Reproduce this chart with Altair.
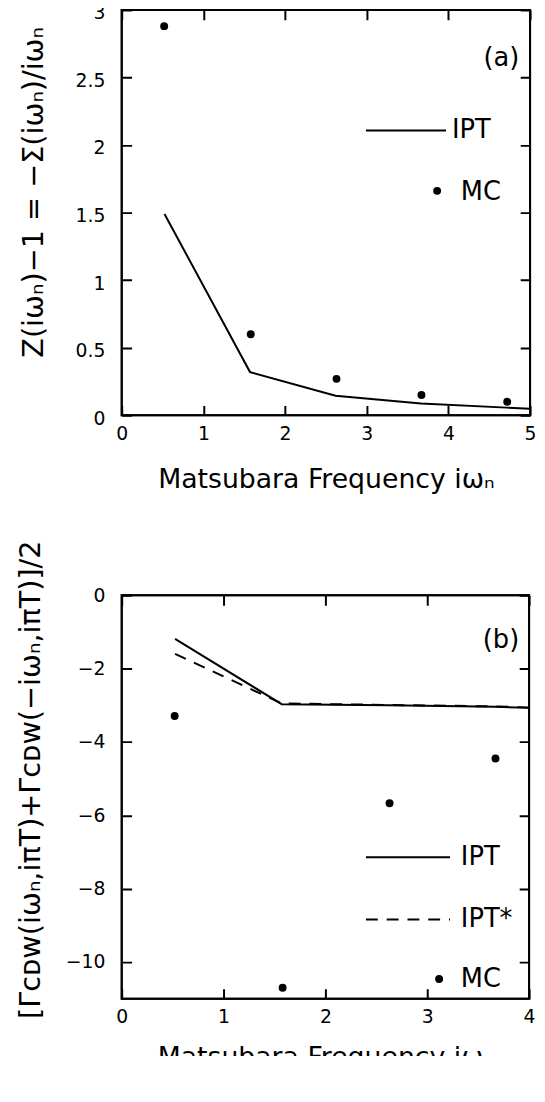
import altair as alt
import pandas as pd

FONT = "DejaVu Sans"

# ---------------- Panel (a) data ----------------
a_freq_mc = [0.52, 1.58, 2.63, 3.67, 4.72]
a_mc = [2.88, 0.60, 0.27, 0.15, 0.10]
a_freq_ipt = [0.524, 1.571, 2.618, 3.665, 4.712, 5.0]
a_ipt = [1.49, 0.32, 0.145, 0.088, 0.057, 0.049]
a_xticks = [0, 1, 2, 3, 4, 5]
a_yticks = [0, 0.5, 1, 1.5, 2, 2.5, 3]

# ---------------- Panel (b) data ----------------
b_freq_mc = [0.52, 1.58, 2.63, 3.67]
b_mc = [-3.29, -10.70, -5.67, -4.45]
b_freq_ipt = [0.524, 1.571, 2.618, 3.665, 4.0]
b_ipt = [-1.19, -2.97, -3.00, -3.04, -3.07]
b_ipt_star = [-1.60, -2.95, -2.99, -3.03, -3.06]
b_xticks = [0, 1, 2, 3, 4]
b_yticks = [0, -2, -4, -6, -8, -10]

XTITLE = "Matsubara Frequency iωₙ"
YTITLE_A = "Z(iωₙ)−1 = −Σ(iωₙ)/iωₙ"
YTITLE_B = "[Γᴄᴅᴡ(iωₙ,iπT)+Γᴄᴅᴡ(−iωₙ,iπT)]/2"

TICK = 10
LW = 2


def panel(W, H, xdom, ydom, xticks, yticks, ytitle, ytitle_x, ytitle_y, xtitle_y,
          ylabel_offset, lines, mc_x, mc_y, legend, tag, tag_pos):
    # inward ticks on all four sides: grid lines dashed so only TICK px at each end show
    X = alt.X("x:Q", scale=alt.Scale(domain=xdom, nice=False, zero=False),
              axis=alt.Axis(values=xticks, format="~r", ticks=False, domain=False,
                            grid=True, gridColor="black", gridWidth=LW, gridOpacity=1,
                            gridDash=[TICK, H - 2 * TICK],
                            labelFontSize=19, labelPadding=9,
                            labelFlush=False, labelOverlap=False,
                            title=XTITLE, titleFontSize=27, titleY=xtitle_y,
                            titleBaseline="alphabetic"))
    Y = alt.Y("y:Q", scale=alt.Scale(domain=ydom, nice=False, zero=False),
              axis=alt.Axis(values=yticks, format="~r", ticks=False, domain=False,
                            grid=True, gridColor="black", gridWidth=LW, gridOpacity=1,
                            gridDash=[TICK, W - 2 * TICK],
                            labelFontSize=19, labelPadding=17, labelOffset=ylabel_offset,
                            labelFlush=False, labelOverlap=False,
                            title=ytitle, titleFontSize=29, titleX=ytitle_x,
                            titleY=ytitle_y, titleBaseline="alphabetic",
                            titleAlign="center", titleAngle=270))
    one = pd.DataFrame({"k": [0]})
    layers = []
    # frame
    layers.append(alt.Chart(one).mark_rect(fillOpacity=0, stroke="black", strokeWidth=LW).encode(
        x=alt.value(0), x2=alt.value(W), y=alt.value(0), y2=alt.value(H)))
    for xs, ys, dash in lines:
        df = pd.DataFrame({"x": xs, "y": ys})
        kw = dict(color="black", strokeWidth=LW)
        if dash:
            kw["strokeDash"] = dash
        layers.append(alt.Chart(df).mark_line(**kw).encode(x=X, y=Y))
    mc_df = pd.DataFrame({"x": mc_x, "y": mc_y})
    layers.append(alt.Chart(mc_df).mark_circle(color="black", opacity=1, size=64).encode(x=X, y=Y))
    # legend
    for item in legend:
        kind = item[0]
        if kind == "line":
            _, x1, x2, yy, dash = item
            kw = dict(color="black", strokeWidth=LW)
            if dash:
                kw["strokeDash"] = dash
            layers.append(alt.Chart(one).mark_rule(**kw).encode(
                x=alt.value(x1), x2=alt.value(x2), y=alt.value(yy)))
        elif kind == "dot":
            _, xx, yy = item
            layers.append(alt.Chart(one).mark_circle(color="black", opacity=1, size=64).encode(
                x=alt.value(xx), y=alt.value(yy)))
        elif kind == "text":
            _, xx, yy, txt = item
            layers.append(alt.Chart(one).mark_text(
                align="left", baseline="middle", font=FONT, fontSize=26, color="black").encode(
                x=alt.value(xx), y=alt.value(yy), text=alt.value(txt)))
    layers.append(alt.Chart(one).mark_text(
        align="right", baseline="middle", font=FONT, fontSize=26, color="black").encode(
        x=alt.value(tag_pos[0]), y=alt.value(tag_pos[1]), text=alt.value(tag)))
    return alt.layer(*layers).properties(width=W, height=H)


pa = panel(413, 410, [0, 5], [0, 3], a_xticks, a_yticks, YTITLE_A, -80, 184, 73, 3,
           [(a_freq_ipt, a_ipt, None)], a_freq_mc, a_mc,
           [("line", 247, 328, 122, None), ("text", 334, 122, "IPT"),
            ("dot", 319, 183), ("text", 343, 184, "MC")],
           "(a)", (402, 49))

pb = panel(412, 408, [0, 4], [-11, 0], b_xticks, b_yticks, YTITLE_B, -83, 186, 68, 0,
           [(b_freq_ipt, b_ipt, None), (b_freq_ipt, b_ipt_star, [12, 9])],
           b_freq_mc, b_mc,
           [("line", 247, 332, 265, None), ("text", 343, 265, "IPT"),
            ("line", 247, 332, 328, [12, 9]), ("text", 343, 327, "IPT*"),
            ("dot", 321, 388), ("text", 343, 388, "MC")],
           "(b)", (402, 45))

chart = alt.vconcat(pa, pb, spacing=45).properties(
    padding={"left": 7, "top": -11, "right": -1, "bottom": -22},
    background="white"
).configure_view(stroke="black", strokeWidth=LW).configure_axis(
    labelFont=FONT, titleFont=FONT, labelColor="black", titleColor="black",
    titleFontWeight="normal"
)

chart.save("out.html", embed_options={"renderer": "svg", "actions": False})
